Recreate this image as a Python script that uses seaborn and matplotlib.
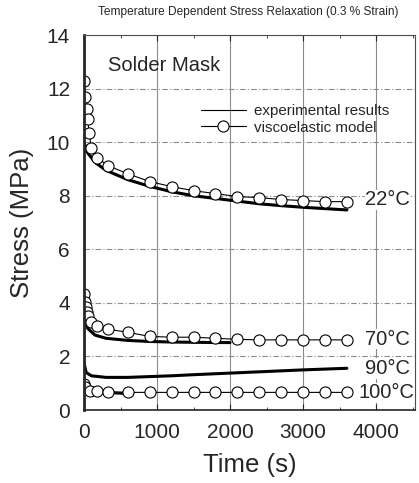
import numpy as np
import pandas as pd
import seaborn as sns
import matplotlib.pyplot as plt
from matplotlib.lines import Line2D

# experimental results (thick lines)
exp22_t = [0, 50, 150, 300, 600, 900, 1200, 1500, 1800, 2100, 2400, 2700, 3000, 3300, 3600]
exp22_v = [10.0, 9.6, 9.25, 8.95, 8.6, 8.35, 8.15, 8.0, 7.9, 7.8, 7.7, 7.63, 7.57, 7.52, 7.47]
exp70_t = [0, 50, 150, 300, 600, 900, 1200, 1500, 1800, 2000]
exp70_v = [3.4, 3.05, 2.8, 2.68, 2.6, 2.56, 2.54, 2.53, 2.52, 2.52]
exp90_t = [0, 30, 100, 300, 600, 900, 1200, 1500, 2000, 2500, 3000, 3600]
exp90_v = [1.75, 1.4, 1.28, 1.22, 1.22, 1.25, 1.28, 1.32, 1.38, 1.44, 1.5, 1.56]
exp100_t = [0, 100, 300, 500, 600]
exp100_v = [0.95, 0.75, 0.66, 0.63, 0.62]

# viscoelastic model (open circles)
mod22_t = [0, 20, 40, 50, 70, 100, 180, 330, 600, 900, 1200, 1500, 1800, 2100, 2400, 2700, 3000, 3300, 3600]
mod22_v = [12.29, 11.7, 11.24, 10.87, 10.35, 9.8, 9.42, 9.12, 8.82, 8.53, 8.34, 8.19, 8.08, 7.97,
           7.93, 7.86, 7.82, 7.78, 7.78]
mod70_t = [0, 20, 30, 40, 60, 90, 180, 330, 600, 900, 1200, 1500, 1800, 2100, 2400, 2700, 3000, 3300, 3600]
mod70_v = [4.32, 4.02, 3.83, 3.65, 3.5, 3.28, 3.13, 3.02, 2.9, 2.75, 2.72, 2.72, 2.68, 2.64,
           2.62, 2.62, 2.62, 2.62, 2.62]
mod100_t = [0, 10, 80, 180, 330, 600, 900, 1200, 1500, 1800, 2100, 2400, 2700, 3000, 3300, 3600]
mod100_v = [0.97, 0.86, 0.72, 0.7, 0.67, 0.66, 0.66, 0.66, 0.66, 0.66, 0.66, 0.66, 0.66, 0.66, 0.66, 0.66]

temp_labels = ["22°C", "70°C", "90°C", "100°C"]
temp_label_x = [3850, 3850, 3850, 3760]
temp_label_y = [7.85, 2.65, 1.55, 0.65]

sns.set_style("white")
plt.rcParams['font.family'] = ['Liberation Sans', 'DejaVu Sans']

fig = plt.figure(figsize=(4.19, 4.83), dpi=100)
ax = fig.add_axes([0.2005, 0.151, 0.7895, 0.7765])

for t, v in [(exp22_t, exp22_v), (exp70_t, exp70_v), (exp90_t, exp90_v), (exp100_t, exp100_v)]:
    sns.lineplot(x=t, y=v, ax=ax, color="black", lw=2.2, sort=False, estimator=None, zorder=3)

for t, v in [(mod22_t, mod22_v), (mod70_t, mod70_v), (mod100_t, mod100_v)]:
    sns.lineplot(x=t, y=v, ax=ax, color="black", lw=0.8, marker="o", markersize=8,
                 markerfacecolor="white", markeredgecolor="black", markeredgewidth=0.8,
                 sort=False, estimator=None, zorder=4)

ax.set_xlim(0, 4530)
ax.set_ylim(0, 14)
ax.set_xticks([0, 1000, 2000, 3000, 4000])
ax.set_xticks(np.arange(500, 4530, 500), minor=True)
ax.set_yticks(range(0, 15, 2))
ax.tick_params(axis="both", labelsize=15, direction="in", length=4, top=True, bottom=True)
ax.tick_params(axis="x", pad=9)
ax.tick_params(axis="x", which="minor", direction="in", length=2, bottom=True, top=True)
ax.tick_params(axis="y", length=0, pad=10)

ax.grid(axis="x", color="0.55", lw=0.8)
ax.grid(axis="y", color="0.55", lw=0.8, linestyle=(0, (5, 2, 1, 2)))
ax.set_axisbelow(True)

for s in ["top", "right"]:
    ax.spines[s].set_linewidth(0.8)
    ax.spines[s].set_color("0.3")
ax.spines["left"].set_linewidth(2)
ax.spines["bottom"].set_linewidth(1.2)
for s in ax.spines.values():
    s.set_zorder(5)

ax.set_xlabel("Time (s)", fontsize=18.5, labelpad=8)
ax.set_ylabel("Stress (MPa)", fontsize=18.5, labelpad=9)
fig.text(0.593, 0.975, "Temperature Dependent Stress Relaxation (0.3 % Strain)",
         fontsize=8.6, ha="center", va="center")
ax.text(330, 12.85, "Solder Mask", fontsize=14.5, ha="left", va="center")

for lab, x, y in zip(temp_labels, temp_label_x, temp_label_y):
    ax.text(x, y, lab, fontsize=14.5, ha="left", va="center",
            bbox=dict(facecolor="white", edgecolor="none", pad=0.5))

# legend
handles = [Line2D([], [], color="black", lw=0.8),
           Line2D([], [], color="black", lw=0.8, marker="o", markersize=8,
                  markerfacecolor="white", markeredgecolor="black", markeredgewidth=0.8)]
ax.legend(handles, ["experimental results", "viscoelastic model"], loc="upper left",
          bbox_to_anchor=(0.33, 0.835), frameon=False, fontsize=10.9, handlelength=3,
          handletextpad=0.5, labelspacing=0.15, borderpad=0)

fig.savefig("out.png", dpi=100)
